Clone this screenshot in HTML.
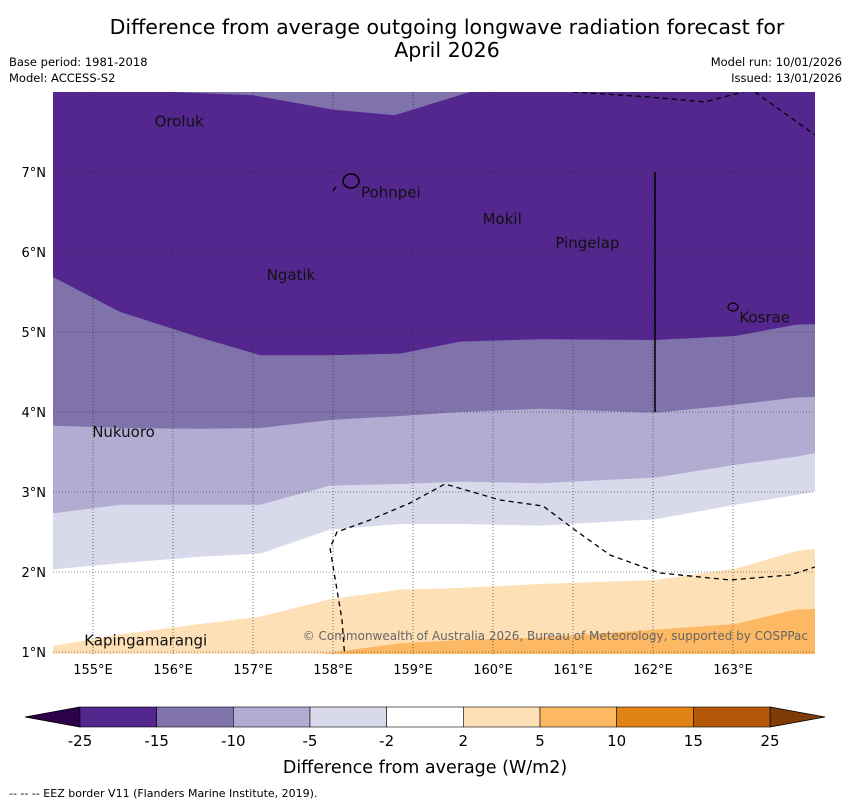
<!DOCTYPE html>
<html><head><meta charset="utf-8"><style>
body{margin:0;background:#fff;font-family:"DejaVu Sans","Liberation Sans",sans-serif;}
</style></head><body>
<svg id="c" width="850" height="804" xmlns="http://www.w3.org/2000/svg" font-family="DejaVu Sans, Liberation Sans, sans-serif">
<text x="447" y="34" font-size="20.5" text-anchor="middle">Difference from average outgoing longwave radiation forecast for</text>
<text x="447" y="57" font-size="20.5" text-anchor="middle">April 2026</text>
<text x="9" y="66" font-size="11.5">Base period: 1981-2018</text>
<text x="9" y="82" font-size="11.5">Model: ACCESS-S2</text>
<text x="842" y="66" font-size="11.5" text-anchor="end">Model run: 10/01/2026</text>
<text x="842" y="82" font-size="11.5" text-anchor="end">Issued: 13/01/2026</text>
<g id="plot"></g>
<g id="cbar"></g>
<text x="425" y="773" font-size="17.5" text-anchor="middle">Difference from average (W/m2)</text>
<text x="9" y="797" font-size="11">--  --  -- EEZ border V11 (Flanders Marine Institute, 2019).</text>
</svg>
<script>
const lons=[154.5,155.34,156.34,157.09,157.96,158.84,159.59,160.59,162.03,163.03,163.78,164.03];
const bandB=[5.70,5.25,4.93,4.71,4.71,4.73,4.88,4.91,4.90,4.95,5.09,5.10];
const bandC=[3.83,3.80,3.79,3.80,3.90,3.95,4.00,4.04,3.99,4.09,4.18,4.19];
const bandD=[2.73,2.84,2.84,2.84,3.08,3.10,3.13,3.11,3.18,3.34,3.44,3.49];
const bandE=[2.03,2.11,2.19,2.23,2.53,2.60,2.60,2.58,2.66,2.84,2.96,3.01];
const bandF=[1.07,1.22,1.35,1.44,1.66,1.78,1.80,1.85,1.90,2.04,2.26,2.29];
const bandG=[0.90,0.90,0.90,0.90,0.99,1.11,1.15,1.18,1.28,1.35,1.53,1.54];
const topLons=[156.0,157.0,158.0,158.77,159.71];
const topLats=[8.0,7.96,7.78,7.71,8.0];
const lonTicks=[155,156,157,158,159,160,161,162,163];
const latTicks=[1,2,3,4,5,6,7];
const levels=["-25","-15","-10","-5","-2","2","5","10","15","25"];
const colors=["#54278f","#8073ac","#b2abd2","#d8daeb","#ffffff","#fee0b6","#fdb863","#e08214","#b35806"];
const islands=[["Oroluk",155.77,7.57],["Pohnpei",158.35,6.68],["Mokil",159.87,6.35],["Pingelap",160.78,6.05],["Ngatik",157.17,5.65],["Kosrae",163.08,5.12],["Nukuoro",154.99,3.69],["Kapingamarangi",154.89,1.08]];
const X0=53,X1=815,Y0=92,Y1=654;
function sx(lon){return X0+(lon-154.5)*80;}
function sy(lat){return Y0+(8-lat)*80;}
const NS="http://www.w3.org/2000/svg";
const plot=document.getElementById('plot');
function mk(tag,attrs,parent){const e=document.createElementNS(NS,tag);for(const k in attrs)e.setAttribute(k,attrs[k]);(parent||plot).appendChild(e);return e;}
const cp=mk('clipPath',{id:'pc'});mk('rect',{x:X0,y:Y0,width:X1-X0,height:Y1-Y0},cp);
const g=mk('g',{'clip-path':'url(#pc)'});
let r=mk('rect',{x:X0,y:Y0,width:X1-X0,height:Y1-Y0,fill:colors[0]},g);


let tp="M"+sx(topLons[0])+","+(Y0-2);
topLons.forEach((l,i)=>tp+=" L"+sx(l)+","+sy(topLats[i]));
tp+=" L"+sx(topLons[topLons.length-1])+","+(Y0-2)+"Z";
let tpe=mk('path',{d:tp,fill:colors[1]},g);


const bounds=[bandB,bandC,bandD,bandE,bandF,bandG];
const bnames=['band-15-10','band-10-5','band-5-2','band-neutral','band-2-5','band-5-10'];
bounds.forEach((b,k)=>{
  let d="M"+(X0-2)+","+(Y1+5);
  lons.forEach((l,i)=>d+=" L"+(i==0?X0-2:i==lons.length-1?X1+2:sx(l))+","+sy(b[i]));
  d+=" L"+(X1+2)+","+(Y1+5)+"Z";
  const p=mk('path',{d:d,fill:colors[k+1]},g);
  
  
});
lonTicks.forEach(l=>{
  const ln=mk('line',{x1:sx(l),x2:sx(l),y1:Y0,y2:Y1,stroke:'#222','stroke-width':0.6,'stroke-dasharray':'1,2'},g);
  
  
  const t=mk('text',{x:sx(l),y:674,'font-size':13,'text-anchor':'middle'});
  t.textContent=l+"°E";
  
  
});
latTicks.forEach(l=>{
  const ln=mk('line',{x1:X0,x2:X1,y1:sy(l),y2:sy(l),stroke:'#222','stroke-width':0.6,'stroke-dasharray':'1,2'},g);
  
  
  const t=mk('text',{x:46,y:sy(l)+5,'font-size':13,'text-anchor':'end'});
  t.textContent=l+"°N";
  
  
});
const eez=[[[573,92],[650,97],[705,102],[750,90]],[[755,92],[815,135]],[[345,660],[342,620],[330,548],[337,532],[370,520],[410,503],[445,484],[500,500],[543,506],[575,530],[610,555],[660,573],[730,580],[790,575],[815,567]],[[333,191],[338,184]]];
eez.forEach(pts=>{
  const e=mk('polyline',{points:pts.map(p=>p.join(',')).join(' '),fill:'none',stroke:'#000','stroke-width':1.3,'stroke-dasharray':'5,4'},g);
  
  
});
const vl=mk('line',{x1:655,x2:655,y1:172,y2:412,stroke:'#000','stroke-width':1.5},g);


islands.forEach(is=>{
  const t=mk('text',{x:sx(is[1]),y:sy(is[2]),'font-size':15,fill:'#111'});
  t.textContent=is[0];
  
  
});
const pn=mk('ellipse',{cx:351,cy:181,rx:8,ry:7,fill:'none',stroke:'#000','stroke-width':1.5});


const ks=mk('ellipse',{cx:733,cy:307,rx:5,ry:4,fill:'none',stroke:'#000','stroke-width':1.2});


const cr=mk('text',{x:808,y:640,'font-size':12,fill:'#666','text-anchor':'end'});
cr.textContent="© Commonwealth of Australia 2026, Bureau of Meteorology, supported by COSPPac";


const cb=document.getElementById('cbar');
const CX0=80,CX1=770,CY=707,CH=20,seg=(CX1-CX0)/9;
const lt=mk('polygon',{points:`${CX0},${CY} ${CX0},${CY+CH} 25,${CY+CH/2}`,fill:'#2d004b',stroke:'#000','stroke-width':0.8},cb);


const rt=mk('polygon',{points:`${CX1},${CY} ${CX1},${CY+CH} 825,${CY+CH/2}`,fill:'#7f3b08',stroke:'#000','stroke-width':0.8},cb);


colors.forEach((c,i)=>{
  const s=mk('rect',{x:CX0+i*seg,y:CY,width:seg,height:CH,fill:c,stroke:'#000','stroke-width':0.6},cb);
  
  
});
levels.forEach((lv,i)=>{
  const t=mk('text',{x:CX0+i*seg,y:746,'font-size':15,'text-anchor':'middle'},cb);
  t.textContent=lv;
  
  
});
</script>
</body></html>
